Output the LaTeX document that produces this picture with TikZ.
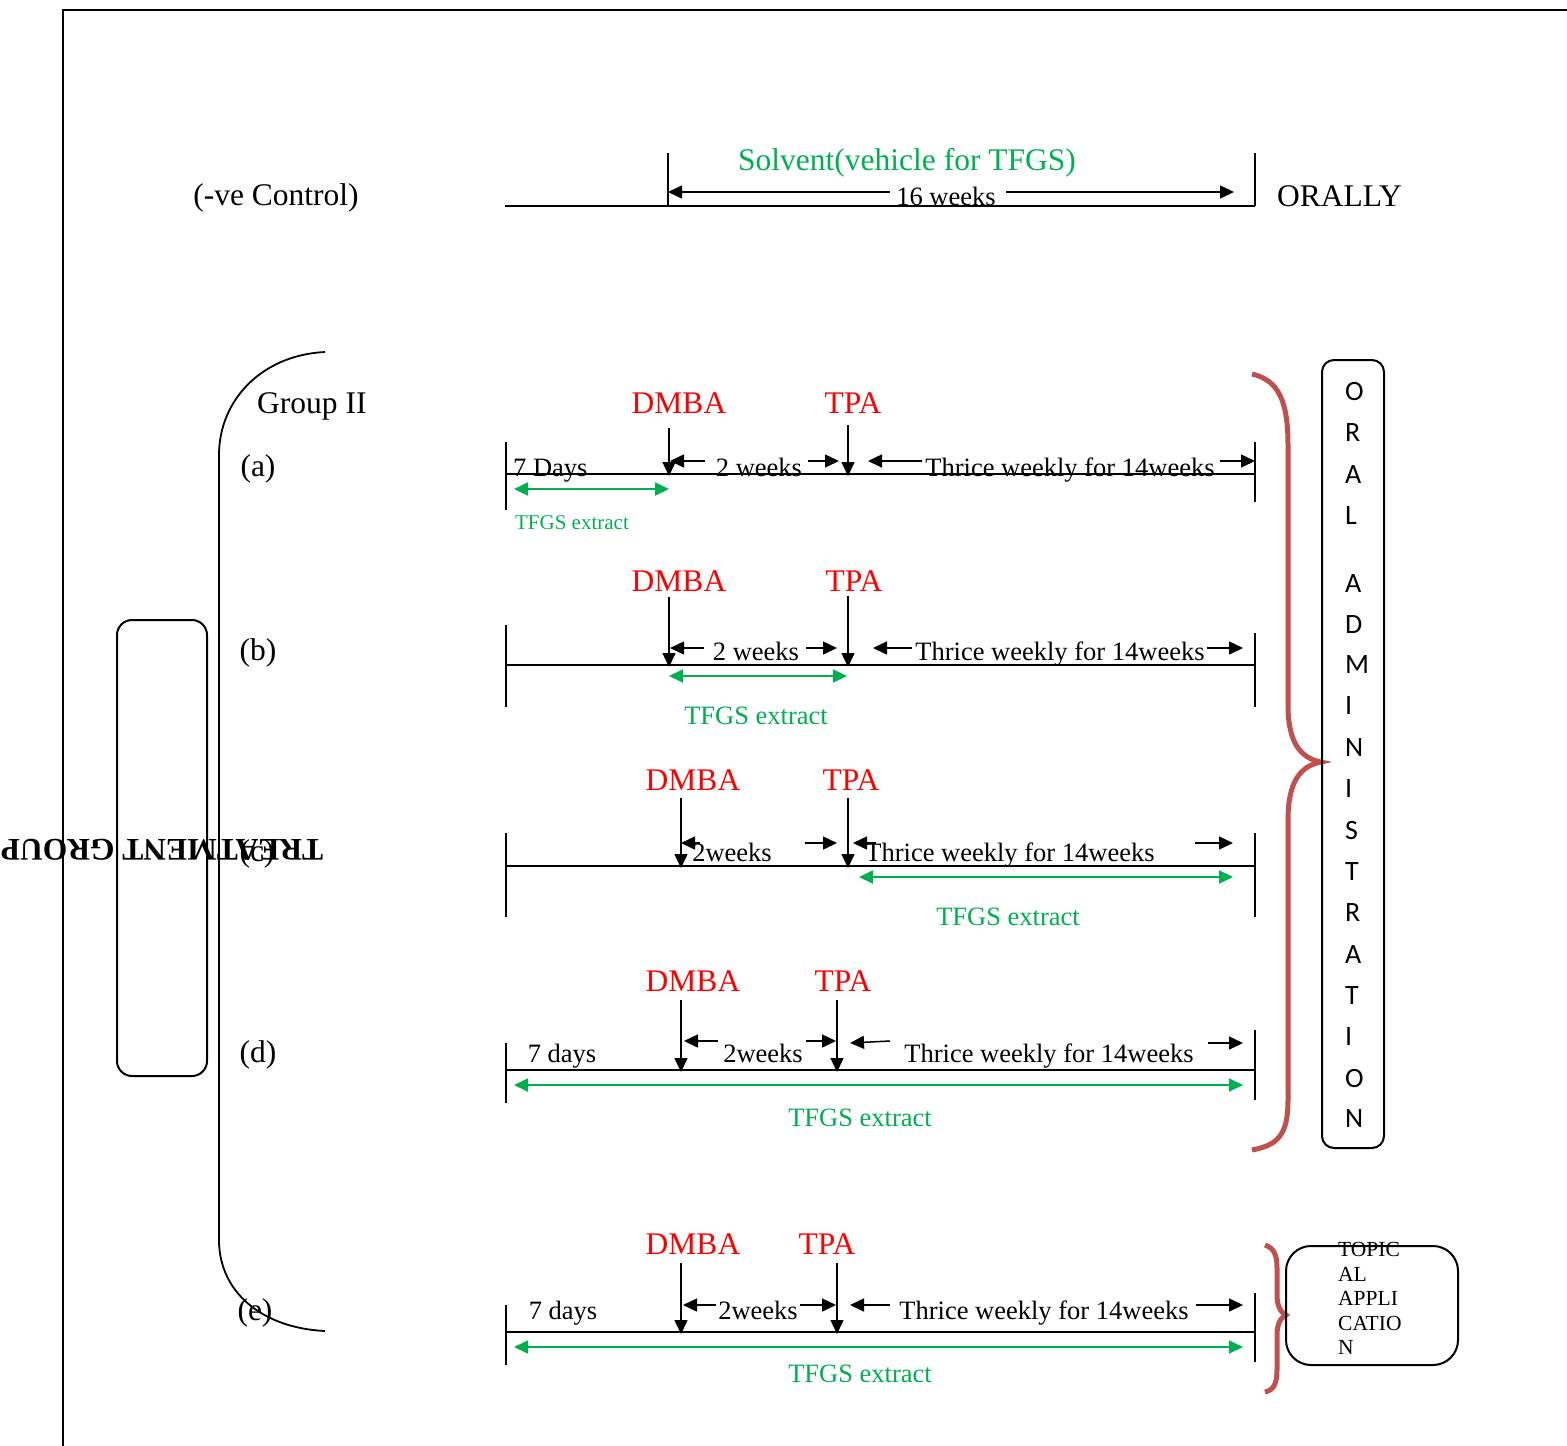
\documentclass[tikz,border=0pt]{standalone}
\usepackage{fontspec}
\setmainfont{Liberation Serif}
\newfontfamily\sansf{Carlito}
\usetikzlibrary{arrows.meta}
\definecolor{dgreen}{RGB}{0,176,80}
\definecolor{dred}{RGB}{255,0,0}
\definecolor{bred}{RGB}{192,80,77}
\tikzset{
  lbl/.style={inner sep=0pt, font=\fontsize{26.5}{30}\selectfont},
  big/.style={inner sep=0pt, font=\fontsize{31.5}{36}\selectfont},
  drug/.style={big, text=dred},
  ext/.style={lbl, text=dgreen},
  tline/.style={line width=2pt},
  tickl/.style={line width=1.5pt},
  arr/.style={line width=1.5pt, -{Triangle[length=14pt,width=13pt]}},
  garr/.style={line width=1.8pt, draw=dgreen, {Triangle[length=14pt,width=13pt]}-{Triangle[length=14pt,width=13pt]}},
  oral/.style={inner sep=0pt, anchor=west, font=\sansf\fontsize{28}{30}\selectfont},
  topl/.style={inner sep=0pt, anchor=base west, font=\fontsize{21.5}{24}\selectfont},
  bbox/.style={draw, line width=2pt, rounded corners=#1},
  brace/.style={draw=bred, line width=5pt},
}
\begin{document}
\begin{tikzpicture}[x=1pt,y=-1pt]
\useasboundingbox (0,0) rectangle (1567,1446);
% outer frame
\draw[line width=2pt] (63,1446) -- (63,10) -- (1567,10);

% ---------- (-ve Control) ----------
\node[big, anchor=base] (ctrl) at (276,205) {(-ve Control)};
\node[big, anchor=base west] (orally) at (1277,206) {ORALLY};
\node[big, anchor=base, text=dgreen] (solv) at (907,170) {Solvent(vehicle for TFGS)};
\coordinate (c0L) at (505,206); \coordinate (c0R) at (1255,206);
\draw[tline] (c0L) -- (c0R);
\draw[tickl] (668,153) -- (668,206);
\draw[tickl] (1255,153) -- (1255,206);
\node[lbl, anchor=base] (w16) at (946,205) {16 weeks};
\coordinate (w16L) at (668,192); \coordinate (w16R) at (1234,192);
\draw[arr] (w16.west |- w16L) ++(-6,0) -- (w16L);
\draw[arr] (w16.east |- w16R) ++(10,0) -- (w16R);

% ---------- left bracket & treatment group ----------
\draw[line width=1.8pt] (325,352) .. controls (262,355) and (219,400) .. (219,455) -- (219,1240) .. controls (219,1292) and (262,1328) .. (325,1331);
\draw[bbox=15pt] (117,620) rectangle (207,1076);
\node[rotate=180, inner sep=0pt, font=\bfseries\fontsize{31.5}{36}\selectfont] (tg) at (162,850) {TREATMENT GROUP};
\node[big, anchor=base west] (g2) at (257,413) {Group II};
\node[big, anchor=base] (la) at (258,476) {(a)};
\node[big, anchor=base] (lb) at (258,660) {(b)};
\node[big, anchor=base] (lc) at (257,861) {(c)};
\node[big, anchor=base] (ld) at (258,1062) {(d)};
\node[big, anchor=base] (le) at (255,1320) {(e)};

% ---------- row (a) ----------
\coordinate (aL) at (506,474); \coordinate (aR) at (1255,474);
\draw[tline] (aL) -- (aR);
\draw[tickl] (506,442) -- (506,510);
\draw[tickl] (1255,442) -- (1255,502);
\node[drug, anchor=base] (aD) at (679,413) {DMBA};
\node[drug, anchor=base] (aT) at (853,413) {TPA};
\coordinate (aD1) at (669,428); \coordinate (aD2) at (669,476);
\coordinate (aT1) at (848,425); \coordinate (aT2) at (848,476);
\draw[arr] (aD1) -- (aD2);
\draw[arr] (aT1) -- (aT2);
\node[lbl, anchor=base west] (a7) at (513,476) {7 Days};
\node[lbl, anchor=base] (a2w) at (759,476) {2 weeks};
\coordinate (a2a) at (705,461); \coordinate (a2b) at (670,461);
\coordinate (a2c) at (808,461); \coordinate (a2d) at (839,461);
\draw[arr] (a2a) -- (a2b);
\draw[arr] (a2c) -- (a2d);
\node[lbl, anchor=base] (athr) at (1070,476) {Thrice weekly for 14weeks};
\coordinate (ata) at (922,461); \coordinate (atb) at (868,461);
\coordinate (atc) at (1220,461); \coordinate (atd) at (1255,461);
\draw[arr] (ata) -- (atb);
\draw[arr] (atc) -- (atd);
\coordinate (agL) at (514,489); \coordinate (agR) at (669,489);
\draw[garr] (agL) -- (agR);
\node[inner sep=0pt, anchor=base, text=dgreen, font=\fontsize{21}{24}\selectfont] (aext) at (572,529) {TFGS extract};

% ---------- row (b) ----------
\coordinate (bL) at (506,665); \coordinate (bR) at (1255,665);
\draw[tline] (bL) -- (bR);
\draw[tickl] (506,625) -- (506,707);
\draw[tickl] (1255,633) -- (1255,707);
\node[drug, anchor=base] (bD) at (679,591) {DMBA};
\node[drug, anchor=base] (bT) at (854,591) {TPA};
\coordinate (bD1) at (669,597); \coordinate (bD2) at (669,667);
\coordinate (bT1) at (848,596); \coordinate (bT2) at (848,667);
\draw[arr] (bD1) -- (bD2);
\draw[arr] (bT1) -- (bT2);
\node[lbl, anchor=base] (b2w) at (756,660) {2 weeks};
\coordinate (b2a) at (704,648); \coordinate (b2b) at (670,648);
\coordinate (b2c) at (806,648); \coordinate (b2d) at (837,648);
\draw[arr] (b2a) -- (b2b);
\draw[arr] (b2c) -- (b2d);
\node[lbl, anchor=base] (bthr) at (1060,660) {Thrice weekly for 14weeks};
\coordinate (bta) at (912,648); \coordinate (btb) at (873,648);
\coordinate (btc) at (1207,648); \coordinate (btd) at (1243,648);
\draw[arr] (bta) -- (btb);
\draw[arr] (btc) -- (btd);
\coordinate (bgL) at (669,676); \coordinate (bgR) at (847,676);
\draw[garr] (bgL) -- (bgR);
\node[ext, anchor=base] (bext) at (756,724) {TFGS extract};

% ---------- row (c) ----------
\coordinate (cL) at (506,866); \coordinate (cR) at (1255,866);
\draw[tline] (cL) -- (cR);
\draw[tickl] (506,833) -- (506,917);
\draw[tickl] (1255,833) -- (1255,917);
\node[drug, anchor=base] (cD) at (693,790) {DMBA};
\node[drug, anchor=base] (cT) at (851,790) {TPA};
\coordinate (cD1) at (681,798); \coordinate (cD2) at (681,868);
\coordinate (cT1) at (848,798); \coordinate (cT2) at (848,868);
\draw[arr] (cD1) -- (cD2);
\draw[arr] (cT1) -- (cT2);
\node[lbl, anchor=base] (c2w) at (732,861) {2weeks};
\coordinate (c2a) at (700,843); \coordinate (c2b) at (681,843);
\coordinate (c2c) at (805,843); \coordinate (c2d) at (837,843);
\draw[arr] (c2a) -- (c2b);
\draw[arr] (c2c) -- (c2d);
\node[lbl, anchor=base] (cthr) at (1010,861) {Thrice weekly for 14weeks};
\coordinate (cta) at (876,843); \coordinate (ctb) at (853,843);
\coordinate (ctc) at (1195,843); \coordinate (ctd) at (1233,843);
\draw[arr] (cta) -- (ctb);
\draw[arr] (ctc) -- (ctd);
\coordinate (cgL) at (859,877); \coordinate (cgR) at (1233,877);
\draw[garr] (cgL) -- (cgR);
\node[ext, anchor=base] (cext) at (1008,925) {TFGS extract};

% ---------- row (d) ----------
\coordinate (dL) at (506,1070); \coordinate (dR) at (1255,1070);
\draw[tline] (dL) -- (dR);
\draw[tickl] (506,1043) -- (506,1103);
\draw[tickl] (1255,1030) -- (1255,1100);
\node[drug, anchor=base] (dD) at (693,991) {DMBA};
\node[drug, anchor=base] (dT) at (843,991) {TPA};
\coordinate (dD1) at (681,1000); \coordinate (dD2) at (681,1072);
\coordinate (dT1) at (837,1000); \coordinate (dT2) at (837,1072);
\draw[arr] (dD1) -- (dD2);
\draw[arr] (dT1) -- (dT2);
\node[lbl, anchor=base] (d7) at (562,1062) {7 days};
\node[lbl, anchor=base] (d2w) at (763,1062) {2weeks};
\coordinate (d2a) at (718,1041); \coordinate (d2b) at (684,1041);
\coordinate (d2c) at (806,1041); \coordinate (d2d) at (836,1041);
\draw[arr] (d2a) -- (d2b);
\draw[arr] (d2c) -- (d2d);
\node[lbl, anchor=base] (dthr) at (1049,1062) {Thrice weekly for 14weeks};
\coordinate (dta) at (890,1041); \coordinate (dtb) at (850,1043);
\coordinate (dtc) at (1208,1043); \coordinate (dtd) at (1243,1043);
\draw[arr] (dta) -- (dtb);
\draw[arr] (dtc) -- (dtd);
\coordinate (dgL) at (514,1085); \coordinate (dgR) at (1243,1085);
\draw[garr] (dgL) -- (dgR);
\node[ext, anchor=base] (dext) at (860,1126) {TFGS extract};

% ---------- row (e) ----------
\coordinate (eL) at (506,1332); \coordinate (eR) at (1255,1332);
\draw[tline] (eL) -- (eR);
\draw[tickl] (506,1305) -- (506,1365);
\draw[tickl] (1255,1293) -- (1255,1362);
\node[drug, anchor=base] (eD) at (693,1254) {DMBA};
\node[drug, anchor=base] (eT) at (827,1254) {TPA};
\coordinate (eD1) at (681,1263); \coordinate (eD2) at (681,1334);
\coordinate (eT1) at (837,1263); \coordinate (eT2) at (837,1334);
\draw[arr] (eD1) -- (eD2);
\draw[arr] (eT1) -- (eT2);
\node[lbl, anchor=base] (e7) at (563,1319) {7 days};
\node[lbl, anchor=base] (e2w) at (758,1319) {2weeks};
\coordinate (e2a) at (716,1305); \coordinate (e2b) at (683,1305);
\coordinate (e2c) at (800,1305); \coordinate (e2d) at (836,1305);
\draw[arr] (e2a) -- (e2b);
\draw[arr] (e2c) -- (e2d);
\node[lbl, anchor=base] (ethr) at (1044,1319) {Thrice weekly for 14weeks};
\coordinate (eta) at (890,1305); \coordinate (etb) at (850,1305);
\coordinate (etc) at (1196,1305); \coordinate (etd) at (1243,1305);
\draw[arr] (eta) -- (etb);
\draw[arr] (etc) -- (etd);
\coordinate (egL) at (514,1347); \coordinate (egR) at (1243,1347);
\draw[garr] (egL) -- (egR);
\node[ext, anchor=base] (eext) at (860,1382) {TFGS extract};

% ---------- braces ----------
\draw[brace] (1252,374) .. controls (1278,380) and (1288,400) .. (1288,445) -- (1288,705) .. controls (1288,742) and (1300,758) .. (1321,762) .. controls (1300,766) and (1288,782) .. (1288,820) -- (1288,1100) .. controls (1288,1135) and (1278,1145) .. (1252,1150);
\draw[brace] (1265,1245) .. controls (1274,1248) and (1277,1255) .. (1277,1268) -- (1277,1295) .. controls (1277,1305) and (1280,1312) .. (1286,1315) .. controls (1280,1318) and (1277,1325) .. (1277,1335) -- (1277,1370) .. controls (1277,1383) and (1274,1390) .. (1265,1392);

% ---------- ORAL ADMINISTRATION box ----------
\draw[bbox=12pt] (1322,360) rectangle (1384,1148);
\foreach \ch/\yy [count=\i] in {O/392,R/433,A/475,L/516,A/584,D/625,M/665,I/706,N/748,I/789,S/831,T/872,R/913,A/955,T/996,I/1037,O/1078,N/1119}
  \node[oral] (oa\i) at (1345,\yy) {\ch};

% ---------- TOPICAL APPLICATION box ----------
\draw[bbox=25pt] (1286,1246) rectangle (1458,1365);
\node[topl] (tp1) at (1338,1256) {TOPIC};
\node[topl] (tp2) at (1338,1281) {AL};
\node[topl] (tp3) at (1338,1305) {APPLI};
\node[topl] (tp4) at (1338,1330) {CATIO};
\node[topl] (tp5) at (1338,1354) {N};
\end{tikzpicture}
\end{document}
